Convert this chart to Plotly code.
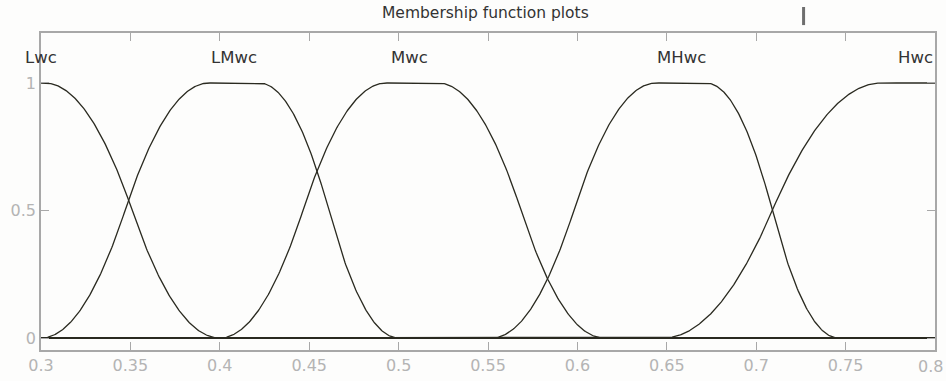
import numpy as np
import plotly.graph_objects as go

# Membership function names and pimf parameters [a, b, c, d]
mf_names = ["Lwc", "LMwc", "Mwc", "MHwc", "Hwc"]
mf_params = [
    [0.20, 0.30, 0.302, 0.400],
    [0.300, 0.394, 0.422, 0.500],
    [0.400, 0.493, 0.522, 0.615],
    [0.552, 0.644, 0.672, 0.746],
    [0.648, 0.770, 0.800, 0.900],
]
label_x = [0.300, 0.408, 0.506, 0.658, 0.800]
label_y = [1.10, 1.10, 1.10, 1.10, 1.10]
x_ticks = [0.3, 0.35, 0.4, 0.45, 0.5, 0.55, 0.6, 0.65, 0.7, 0.75, 0.8]
x_tick_text = ["0.3", "0.35", "0.4", "0.45", "0.5", "0.55", "0.6", "0.65", "0.7", "0.75", "0.8"]
y_ticks = [0, 0.5, 1]
y_tick_text = ["0", "0.5", "1"]
title_text = "Membership function plots"

FONT = "DejaVu Sans, Liberation Sans, Arial"
TICK_COLOR = "#b4b4b4"


def smf(x, a, b):
    y = np.zeros_like(x)
    m = (a + b) / 2
    y[x >= b] = 1
    i1 = (x > a) & (x <= m)
    y[i1] = 2 * ((x[i1] - a) / (b - a)) ** 2
    i2 = (x > m) & (x < b)
    y[i2] = 1 - 2 * ((x[i2] - b) / (b - a)) ** 2
    return y


def pimf(x, p):
    a, b, c, d = p
    return np.minimum(smf(x, a, b), 1 - smf(x, c, d))


xs = np.linspace(0.3, 0.8, 1001)

fig = go.Figure()
# baseline at zero
fig.add_trace(go.Scatter(x=[0.3, 0.8], y=[0, 0], mode="lines",
                         line=dict(color="#333333", width=2.2),
                         hoverinfo="skip", showlegend=False))
for name, p in zip(mf_names, mf_params):
    fig.add_trace(go.Scatter(x=xs, y=pimf(xs, p), mode="lines", name=name,
                             line=dict(color="#2a2a20", width=1.3),
                             showlegend=False))

for name, lx, ly in zip(mf_names, label_x, label_y):
    anchor = "center"
    if lx >= 0.8:
        anchor = "right"
    fig.add_annotation(x=lx, y=ly, text=name, showarrow=False,
                       xanchor=anchor, yanchor="middle",
                       font=dict(family=FONT, size=16.5, color="#333333"))

fig.add_annotation(x=(485 - 41) / 894, y=1.0, xref="paper", yref="paper", yshift=20,
                   text=title_text, showarrow=False, xanchor="center", yanchor="middle",
                   font=dict(family=FONT, size=15.5, color="#333333"))
fig.add_shape(type="line", xref="paper", yref="paper",
              x0=0.853, x1=0.853, y0=1.025, y1=1.082,
              line=dict(color="#6e6e6e", width=3))

# last x tick label drawn as an annotation so it stays inside the window edge
shown_tick_text = x_tick_text[:-1] + [""]
fig.add_annotation(x=x_ticks[-1], y=0, xref="x", yref="paper", yshift=-16,
                   xshift=10, text=x_tick_text[-1], showarrow=False,
                   xanchor="right", yanchor="middle",
                   font=dict(family=FONT, size=16, color=TICK_COLOR))

axis_common = dict(showgrid=False, zeroline=False, showline=True, linecolor="#a8a8a8",
                   linewidth=1.5, mirror="ticks", ticks="inside", ticklen=8,
                   tickcolor="#a8a8a8", tickwidth=1, automargin=False,
                   tickfont=dict(family=FONT, size=16, color=TICK_COLOR))

fig.update_xaxes(range=[0.3, 0.8], tickvals=x_ticks, ticktext=shown_tick_text, **axis_common)
fig.update_yaxes(range=[-0.047, 1.196], tickvals=y_ticks, ticktext=y_tick_text, **axis_common)

fig.update_layout(width=946, height=381, margin=dict(l=41, r=11, t=33, b=31),
                  paper_bgcolor="#fdfdfc", plot_bgcolor="#fdfdfc")

# remove the default page body margin so the figure fills the window exactly
fig.write_html("out.html", config={"displayModeBar": False},
               post_script="document.body.style.margin='0';document.body.style.overflow='hidden';")
